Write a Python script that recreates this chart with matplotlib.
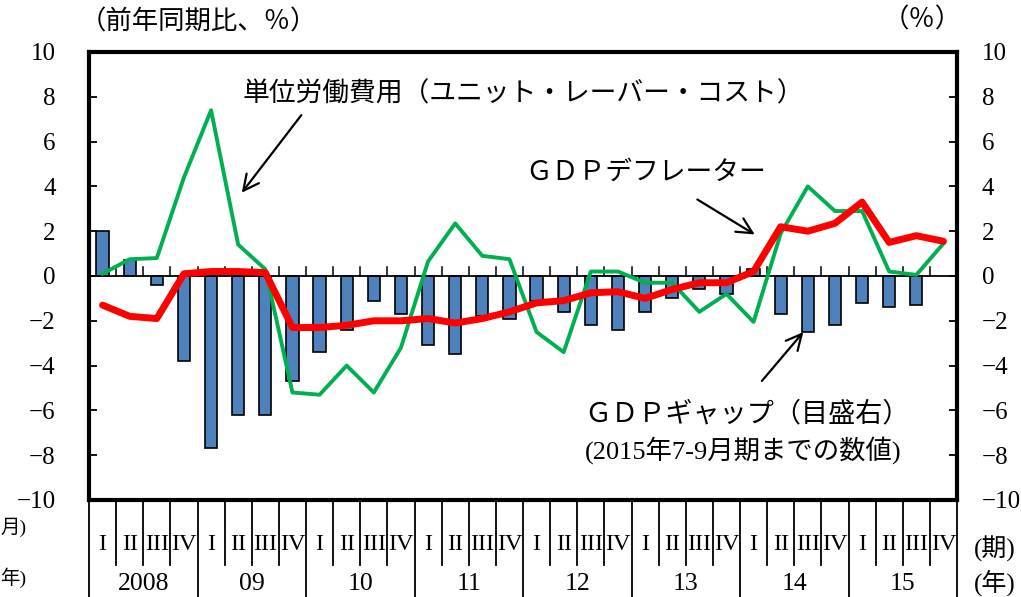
import numpy as np
import matplotlib.pyplot as plt
from matplotlib.transforms import blended_transform_factory

plt.rcParams['font.family'] = ['Liberation Serif', 'Noto Sans CJK JP', 'DejaVu Sans']

# 2008 I - 2015 IV, quarterly
quarters = ['I', 'II', 'III', 'IV'] * 8
years = ['2008', '09', '10', '11', '12', '13', '14', '15']
yticks = np.arange(-10, 11, 2)
ytick_labels = [str(v).replace('-', '\u2212') for v in yticks]

# GDP gap (right scale), available through 2015 Q3
gdp_gap = [2.0, 0.7, -0.4, -3.8, -7.7, -6.2, -6.2, -4.7,
           -3.4, -2.4, -1.1, -1.7, -3.1, -3.5, -1.8, -1.9,
           -1.1, -1.6, -2.2, -2.4, -1.6, -1.0, -0.6, -0.8,
           0.3, -1.7, -2.5, -2.2, -1.2, -1.4, -1.3]

# GDP deflator, yoy %
deflator = [-1.3, -1.8, -1.9, 0.1, 0.2, 0.2, 0.15, -2.3,
            -2.3, -2.2, -2.0, -2.0, -1.9, -2.1, -1.9, -1.6,
            -1.2, -1.1, -0.75, -0.7, -1.0, -0.6, -0.3, -0.3,
            0.2, 2.2, 2.0, 2.35, 3.3, 1.5, 1.8, 1.55]

# unit labour cost, yoy %
ulc = [0.1, 0.75, 0.8, 4.4, 7.4, 1.4, 0.3, -5.2,
       -5.3, -4.0, -5.2, -3.2, 0.65, 2.35, 0.9, 0.75,
       -2.5, -3.4, 0.2, 0.2, -0.3, -0.3, -1.6, -0.8,
       -2.05, 1.9, 4.0, 2.9, 2.9, 0.2, 0.05, 1.45]

W, H = 1021, 597
fig = plt.figure(figsize=(W / 100, H / 100), dpi=100)
ax = fig.add_axes([89 / W, 1 - 500 / H, (957 - 89) / W, (500 - 52) / H])

x = np.arange(len(quarters))
ax.bar(np.arange(len(gdp_gap)), gdp_gap, width=0.45, color='#4F81BD',
       edgecolor='black', linewidth=1.2, zorder=2)
ax.plot(x, ulc, color='#00B050', lw=2.8, zorder=3)
ax.plot(x, deflator, color='#FF0000', lw=5, zorder=4, solid_capstyle='round')

# zero line with small ticks at quarter boundaries
ax.axhline(0, color='black', lw=1.3, zorder=2.5)
for k in range(1, len(quarters)):
    ax.plot([k - 0.5, k - 0.5], [0, 0.38], color='black', lw=1.1, zorder=2.5)

ax.set_xlim(-0.5, len(quarters) - 0.5)
ax.set_ylim(-10, 10)
ax.set_xticks([])
for s in ax.spines.values():
    s.set_linewidth(3)

# right-hand scale (GDP gap)
ax2 = ax.twinx()
ax2.set_ylim(-10, 10)
for s in ax2.spines.values():
    s.set_visible(False)

ax.set_yticks(yticks, ytick_labels, fontsize=18, family='Liberation Serif')
ax2.set_yticks(yticks, ytick_labels, fontsize=18, family='Liberation Serif')
ax.tick_params(axis='y', direction='in', length=6, width=1.3, pad=24)
ax2.tick_params(axis='y', direction='in', length=6, width=1.3, pad=18)

# category axis below the plot
tr = blended_transform_factory(ax.transData, ax.transAxes)
for k in range(len(quarters) + 1):
    bottom = -0.2165 if k % 4 == 0 else -0.145
    ax.plot([k - 0.5, k - 0.5], [0, bottom], transform=tr, color='black',
            lw=1.3, clip_on=False)
for i, q in enumerate(quarters):
    ax.text(i, -0.100, q, transform=tr, ha='center', va='center', fontsize=17.5)
for j, y in enumerate(years):
    ax.text(4 * j + 1.5, -0.188, y, transform=tr, ha='center', va='center', fontsize=18.5)

fig.text(0, 1 - 527 / H, '月)', ha='left', va='center', fontsize=14)
fig.text(0, 1 - 578 / H, '年)', ha='left', va='center', fontsize=14)
fig.text(974 / W, 1 - 549 / H, '(期)', ha='left', va='center', fontsize=18)
fig.text(974 / W, 1 - 583 / H, '(年)', ha='left', va='center', fontsize=18)
fig.text(80 / W, 1 - 22 / H, '（前年同期比、％）', ha='left', va='center', fontsize=19)
fig.text(962 / W, 1 - 20 / H, '（％）', ha='right', va='center', fontsize=19)

# series labels and arrows
ax.text(5.15, 8.08, '単位労働費用（ユニット・レーバー・コスト）', ha='left', va='center', fontsize=19.3)
ax.annotate('', xy=(5.07, 3.62), xytext=(7.39, 7.28),
            arrowprops=dict(arrowstyle='->', lw=1.6, mutation_scale=28, color='black'))
ax.text(15.6, 4.6, 'ＧＤＰデフレーター', ha='left', va='center', fontsize=19.3)
ax.annotate('', xy=(24.13, 1.79), xytext=(21.84, 3.48),
            arrowprops=dict(arrowstyle='->', lw=1.6, mutation_scale=28, color='black'))
ax.text(23.75, -6.2, 'ＧＤＰギャップ（目盛右）', ha='center', va='center', fontsize=19.5)
ax.text(23.6, -7.77, '(2015年7-9月期までの数値)', ha='center', va='center', fontsize=19)
ax.annotate('', xy=(25.9, -2.41), xytext=(24.24, -4.78),
            arrowprops=dict(arrowstyle='->', lw=1.6, mutation_scale=28, color='black'))

fig.savefig('out.png', dpi=100)
